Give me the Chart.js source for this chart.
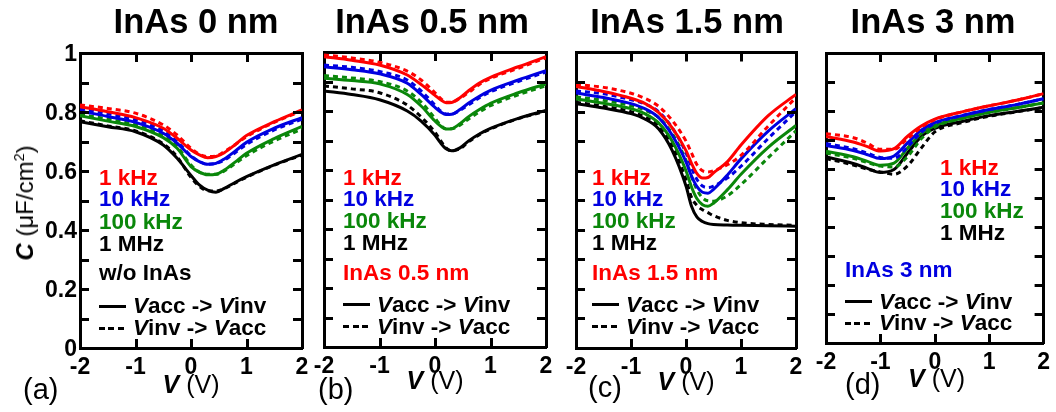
<!DOCTYPE html>
<html>
<head>
<meta charset="utf-8">
<script src="https://cdn.jsdelivr.net/npm/chart.js@4.4.1/dist/chart.umd.min.js"></script>
<style>
  html, body { margin: 0; padding: 0; background: #fff; }
  #fig { position: relative; width: 1056px; height: 412px; overflow: hidden;
         font-family: "Liberation Sans", Arial, Helvetica, sans-serif; color: #000; }
  #fig canvas { position: absolute; left: 0; top: 0; }
  .txt { position: absolute; white-space: nowrap; line-height: 1; }
  .txt sup { font-size: 0.6em; line-height: 0; vertical-align: 0.6em; }
  .swatch { position: absolute; height: 3px; }
</style>
</head>
<body>
<div id="fig"></div>
<script>
// ---- measured C-V data (capacitance in uF/cm^2 versus gate voltage in V) ----
// fwd = sweep from accumulation to inversion (solid), rev = reverse sweep (dashed)

const frequencies = ['1 kHz', '10 kHz', '100 kHz', '1 MHz'];
const panelTitles = ['InAs 0 nm', 'InAs 0.5 nm', 'InAs 1.5 nm', 'InAs 3 nm'];
const sampleNotes = ['w/o InAs', 'InAs 0.5 nm', 'InAs 1.5 nm', 'InAs 3 nm'];
const panelTags = ['(a)', '(b)', '(c)', '(d)'];
const xTickValues = [-2, -1, 0, 1, 2];
const yTickLabels = ['0', '0.2', '0.4', '0.6', '0.8', '1'];

// (a) InAs 0 nm
const V_A = [-2, -1.5, -1, -0.5, -0.25, 0, 0.15, 0.3, 0.45, 0.6, 0.8, 1, 1.5, 2];
const A_1K_FWD   = [0.818, 0.801, 0.781, 0.745, 0.711, 0.671, 0.655, 0.645, 0.649, 0.662, 0.690, 0.720, 0.767, 0.807];
const A_1K_REV   = [0.824, 0.812, 0.796, 0.756, 0.722, 0.677, 0.657, 0.649, 0.651, 0.666, 0.690, 0.716, 0.765, 0.803];
const A_10K_FWD  = [0.803, 0.785, 0.765, 0.728, 0.694, 0.649, 0.632, 0.623, 0.626, 0.641, 0.668, 0.697, 0.745, 0.781];
const A_10K_REV  = [0.810, 0.794, 0.773, 0.736, 0.699, 0.652, 0.632, 0.623, 0.626, 0.637, 0.663, 0.690, 0.739, 0.776];
const A_100K_FWD = [0.787, 0.769, 0.751, 0.713, 0.677, 0.615, 0.596, 0.587, 0.589, 0.603, 0.631, 0.660, 0.710, 0.751];
const A_100K_REV = [0.792, 0.776, 0.756, 0.719, 0.683, 0.620, 0.596, 0.589, 0.589, 0.600, 0.626, 0.652, 0.702, 0.742];
const A_1M_FWD   = [0.767, 0.750, 0.733, 0.688, 0.643, 0.585, 0.553, 0.535, 0.528, 0.541, 0.562, 0.581, 0.621, 0.656];
const A_1M_REV   = [0.770, 0.753, 0.736, 0.692, 0.648, 0.578, 0.548, 0.533, 0.532, 0.540, 0.560, 0.579, 0.620, 0.654];

// (b) InAs 0.5 nm
const V_B = [-2, -1.5, -1, -0.5, -0.25, 0, 0.1, 0.2, 0.3, 0.45, 0.6, 0.8, 1, 1.5, 2];
const B_1K_FWD   = [0.984, 0.972, 0.956, 0.922, 0.890, 0.853, 0.838, 0.828, 0.829, 0.845, 0.868, 0.895, 0.914, 0.950, 0.984];
const B_1K_REV   = [0.990, 0.980, 0.965, 0.935, 0.905, 0.862, 0.843, 0.830, 0.830, 0.843, 0.862, 0.890, 0.910, 0.945, 0.980];
const B_10K_FWD  = [0.950, 0.940, 0.926, 0.894, 0.856, 0.812, 0.797, 0.788, 0.789, 0.805, 0.826, 0.850, 0.870, 0.905, 0.937];
const B_10K_REV  = [0.956, 0.948, 0.934, 0.905, 0.868, 0.820, 0.800, 0.790, 0.790, 0.802, 0.820, 0.845, 0.865, 0.900, 0.932];
const B_100K_FWD = [0.911, 0.903, 0.892, 0.856, 0.817, 0.766, 0.749, 0.739, 0.740, 0.757, 0.780, 0.805, 0.826, 0.862, 0.892];
const B_100K_REV = [0.920, 0.912, 0.900, 0.868, 0.830, 0.775, 0.752, 0.740, 0.740, 0.752, 0.772, 0.797, 0.818, 0.855, 0.886];
const B_1M_FWD   = [0.868, 0.856, 0.838, 0.800, 0.766, 0.718, 0.692, 0.672, 0.665, 0.675, 0.698, 0.722, 0.741, 0.775, 0.802];
const B_1M_REV   = [0.885, 0.875, 0.862, 0.820, 0.780, 0.728, 0.700, 0.675, 0.665, 0.672, 0.695, 0.720, 0.739, 0.774, 0.800];

// (c) InAs 1.5 nm
const V_C = [-2, -1.5, -1, -0.75, -0.5, -0.25, 0, 0.1, 0.2, 0.3, 0.4, 0.5, 0.75, 1, 1.5, 2];
const C_1K_FWD   = [0.885, 0.868, 0.845, 0.828, 0.797, 0.745, 0.668, 0.625, 0.590, 0.575, 0.577, 0.593, 0.630, 0.687, 0.787, 0.858];
const C_1K_REV   = [0.892, 0.882, 0.862, 0.845, 0.818, 0.770, 0.700, 0.660, 0.620, 0.600, 0.596, 0.600, 0.620, 0.652, 0.752, 0.848];
const C_10K_FWD  = [0.863, 0.848, 0.827, 0.810, 0.780, 0.720, 0.630, 0.582, 0.546, 0.527, 0.524, 0.537, 0.585, 0.640, 0.735, 0.810];
const C_10K_REV  = [0.870, 0.860, 0.840, 0.826, 0.800, 0.745, 0.660, 0.610, 0.570, 0.548, 0.543, 0.548, 0.575, 0.615, 0.710, 0.800];
const C_100K_FWD = [0.843, 0.828, 0.810, 0.793, 0.762, 0.700, 0.600, 0.545, 0.505, 0.485, 0.480, 0.490, 0.535, 0.588, 0.680, 0.753];
const C_100K_REV = [0.850, 0.838, 0.820, 0.805, 0.780, 0.725, 0.635, 0.580, 0.535, 0.508, 0.498, 0.497, 0.515, 0.553, 0.645, 0.735];
const C_1M_FWD   = [0.827, 0.812, 0.793, 0.775, 0.742, 0.668, 0.548, 0.480, 0.443, 0.428, 0.421, 0.418, 0.416, 0.415, 0.414, 0.412];
const C_1M_REV   = [0.832, 0.818, 0.800, 0.782, 0.752, 0.685, 0.570, 0.510, 0.482, 0.468, 0.458, 0.448, 0.432, 0.424, 0.418, 0.415];

// (d) InAs 3 nm
const V_D = [-2, -1.5, -1.25, -1, -0.75, -0.5, -0.25, 0, 0.5, 1, 1.5, 2];
const D_1K_FWD   = [0.712, 0.693, 0.678, 0.662, 0.670, 0.713, 0.748, 0.772, 0.797, 0.818, 0.837, 0.860];
const D_1K_REV   = [0.722, 0.708, 0.690, 0.668, 0.668, 0.705, 0.744, 0.770, 0.797, 0.818, 0.837, 0.860];
const D_10K_FWD  = [0.681, 0.664, 0.650, 0.636, 0.645, 0.690, 0.734, 0.760, 0.784, 0.805, 0.822, 0.842];
const D_10K_REV  = [0.688, 0.670, 0.655, 0.640, 0.637, 0.676, 0.726, 0.757, 0.784, 0.805, 0.822, 0.842];
const D_100K_FWD = [0.661, 0.642, 0.627, 0.613, 0.620, 0.672, 0.722, 0.750, 0.775, 0.796, 0.811, 0.828];
const D_100K_REV = [0.655, 0.637, 0.623, 0.610, 0.607, 0.643, 0.704, 0.744, 0.774, 0.795, 0.811, 0.828];
const D_1M_FWD   = [0.642, 0.619, 0.603, 0.588, 0.598, 0.655, 0.712, 0.740, 0.764, 0.784, 0.798, 0.813];
const D_1M_REV   = [0.636, 0.614, 0.600, 0.590, 0.582, 0.611, 0.672, 0.728, 0.760, 0.782, 0.797, 0.812];

// ---- styling and layout ----
const FONT = '"Liberation Sans", Arial, Helvetica, sans-serif';
const SERIES_COLORS = ['#ff0000', '#0000e0', '#0a870a', '#000000'];
const W = 1056, H = 412;

const panels = [
  { volts: V_A, fwd: [A_1K_FWD, A_10K_FWD, A_100K_FWD, A_1M_FWD], rev: [A_1K_REV, A_10K_REV, A_100K_REV, A_1M_REV],
    area: { l: 80, r: 302, t: 53, b: 348 }, yLabels: true, noteColor: '#000',
    freqX: 99, freqBase: [186, 207.5, 230, 252.5], noteX: 99, noteBase: 281.5, keyX: 99, keyBase: [314.5, 336.5],
    titleX: 196, tagX: 23, tagBase: 400, axisBase: 393 },
  { volts: V_B, fwd: [B_1K_FWD, B_10K_FWD, B_100K_FWD, B_1M_FWD], rev: [B_1K_REV, B_10K_REV, B_100K_REV, B_1M_REV],
    area: { l: 324, r: 546, t: 52, b: 347 }, yLabels: false, noteColor: '#ff0000',
    freqX: 343, freqBase: [186, 207.5, 229.5, 251.5], noteX: 343, noteBase: 281.5, keyX: 343, keyBase: [313, 335],
    titleX: 432, tagX: 318, tagBase: 400, axisBase: 389 },
  { volts: V_C, fwd: [C_1K_FWD, C_10K_FWD, C_100K_FWD, C_1M_FWD], rev: [C_1K_REV, C_10K_REV, C_100K_REV, C_1M_REV],
    area: { l: 576, r: 796, t: 52.5, b: 348 }, yLabels: false, noteColor: '#ff0000',
    freqX: 592, freqBase: [186.5, 207, 229.5, 251.5], noteX: 592, noteBase: 281.5, keyX: 592, keyBase: [313, 335],
    titleX: 687, tagX: 588, tagBase: 398, axisBase: 390 },
  { volts: V_D, fwd: [D_1K_FWD, D_10K_FWD, D_100K_FWD, D_1M_FWD], rev: [D_1K_REV, D_10K_REV, D_100K_REV, D_1M_REV],
    area: { l: 826, r: 1047, t: 53, b: 343 }, yLabels: false, noteColor: '#0000e0',
    freqX: 940, freqBase: [176, 197.5, 219.5, 241.5], noteX: 845, noteBase: 278, keyX: 845, keyBase: [310, 331.5],
    titleX: 933, tagX: 845, tagBase: 395, axisBase: 387 }
];

const fig = document.getElementById('fig');

function addText(html, x, base, size, opts = {}) {
  const d = document.createElement('div');
  d.className = 'txt';
  d.innerHTML = html;
  d.style.fontSize = size + 'px';
  d.style.top = (base - 0.8465 * size) + 'px';
  d.style.left = x + 'px';
  if (opts.center) d.style.transform = 'translateX(-50%)';
  if (opts.bold) d.style.fontWeight = 'bold';
  if (opts.color) d.style.color = opts.color;
  fig.appendChild(d);
  return d;
}

function addSwatch(x, y, dashed) {
  const s = document.createElement('div');
  s.className = 'swatch';
  s.style.left = x + 'px';
  s.style.top = (y - 1.5) + 'px';
  s.style.width = (dashed ? 25 : 27) + 'px';
  s.style.background = dashed
    ? 'repeating-linear-gradient(to right, #000 0 6px, transparent 6px 9.5px)'
    : '#000';
  fig.appendChild(s);
}

// Inward-pointing tick marks on all four sides, placed at each scale's own ticks
const TICK_LEN = 9;
const inwardTicks = {
  id: 'inwardTicks',
  afterDatasetsDraw(chart) {
    const ctx = chart.ctx;
    const area = chart.chartArea;
    ctx.save();
    ctx.strokeStyle = '#000';
    ctx.lineWidth = 3;
    ctx.lineCap = 'butt';
    Object.values(chart.scales).forEach((s) => {
      s.ticks.forEach((t) => {
        if (t.value <= s.min + 1e-9 || t.value >= s.max - 1e-9) return;
        const p = Math.round(s.getPixelForValue(t.value)) + 0.5;
        ctx.beginPath();
        if (s.position === 'bottom') { ctx.moveTo(p, area.bottom); ctx.lineTo(p, area.bottom - TICK_LEN); }
        else if (s.position === 'top') { ctx.moveTo(p, area.top); ctx.lineTo(p, area.top + TICK_LEN); }
        else if (s.position === 'left') { ctx.moveTo(area.left, p); ctx.lineTo(area.left + TICK_LEN, p); }
        else { ctx.moveTo(area.right, p); ctx.lineTo(area.right - TICK_LEN, p); }
        ctx.stroke();
      });
    });
    ctx.restore();
  }
};

const gridOpts = { display: false, drawTicks: false };
const borderOpts = { display: true, color: '#000', width: 3 };
const tickFont = { family: FONT, size: 23, weight: 'bold' };

function buildPanel(p, idx) {
  const cv = document.createElement('canvas');
  cv.width = W; cv.height = H;
  fig.appendChild(cv);

  const datasets = [];
  frequencies.forEach((f, i) => {
    datasets.push({
      label: f + ' Vacc -> Vinv',
      data: p.volts.map((v, k) => ({ x: v, y: p.fwd[i][k] })),
      borderColor: SERIES_COLORS[i], borderWidth: 3, fill: false
    });
    datasets.push({
      label: f + ' Vinv -> Vacc',
      data: p.volts.map((v, k) => ({ x: v, y: p.rev[i][k] })),
      borderColor: SERIES_COLORS[i], borderWidth: 3, borderDash: [5, 4], fill: false
    });
  });

  const a = p.area;
  // axis box sizes: the left box holds the value labels, the bottom box the voltage labels
  const leftW = p.yLabels ? a.l - 2 : 20;
  const bottomH = 40;
  const sideW = 1;
  new Chart(cv, {
    type: 'line',
    data: { datasets },
    plugins: [inwardTicks],
    options: {
      responsive: false, animation: false, devicePixelRatio: 1,
      layout: { padding: { left: a.l - leftW, right: W - a.r - sideW, top: a.t - sideW, bottom: H - a.b - bottomH } },
      plugins: { legend: { display: false }, tooltip: { enabled: false }, title: { display: false } },
      elements: { point: { radius: 0 }, line: { cubicInterpolationMode: 'monotone', borderCapStyle: 'butt' } },
      scales: {
        x: {
          type: 'linear', position: 'bottom', min: -2, max: 2,
          afterFit: (s) => { s.height = bottomH; },
          afterBuildTicks: (s) => { s.ticks = xTickValues.map(v => ({ value: v })); },
          ticks: { font: tickFont, color: '#000', padding: 6, maxRotation: 0, autoSkip: false },
          grid: gridOpts, border: borderOpts
        },
        x2: {
          type: 'linear', position: 'top', min: -2, max: 2,
          afterFit: (s) => { s.height = sideW; },
          afterBuildTicks: (s) => { s.ticks = xTickValues.map(v => ({ value: v })); },
          ticks: { display: false }, grid: gridOpts, border: borderOpts
        },
        y: {
          type: 'linear', position: 'left', min: 0, max: 1,
          afterFit: (s) => { s.width = leftW; },
          ticks: {
            display: p.yLabels, stepSize: 0.1, autoSkip: false, font: tickFont, color: '#000',
            padding: 3, labelOffset: 2,
            callback: (v) => { const t = Math.round(v * 10); return t % 2 === 0 ? yTickLabels[t / 2] : ''; }
          },
          grid: gridOpts, border: borderOpts
        },
        y2: {
          type: 'linear', position: 'right', min: 0, max: 1,
          afterFit: (s) => { s.width = sideW; },
          ticks: { display: false, stepSize: 0.1, autoSkip: false },
          grid: gridOpts, border: borderOpts
        }
      }
    }
  });

  // panel heading, annotations and axis title
  addText(panelTitles[idx], p.titleX, 33.5, 34.5, { bold: true, center: true });
  frequencies.forEach((f, i) => addText(f, p.freqX, p.freqBase[i], 22.5, { bold: true, color: SERIES_COLORS[i] }));
  addText(sampleNotes[idx], p.noteX, p.noteBase, 22.5, { bold: true, color: p.noteColor });
  addSwatch(p.keyX, p.keyBase[0] - 8.5, false);
  addSwatch(p.keyX, p.keyBase[1] - 8.5, true);
  addText('<i>V</i>acc -&gt; <i>V</i>inv', p.keyX + 34, p.keyBase[0], 22.5, { bold: true });
  addText('<i>V</i>inv -&gt; <i>V</i>acc', p.keyX + 34, p.keyBase[1], 22.5, { bold: true });
  addText('<b><i>V</i></b> (V)', (a.l + a.r) / 2, p.axisBase, 25, { center: true });
  addText(panelTags[idx], p.tagX, p.tagBase, 29);
}

panels.forEach(buildPanel);

// y-axis title of the first panel
const yTitle = document.createElement('div');
yTitle.className = 'txt';
yTitle.innerHTML = '<b><i>C</i></b> (μF/cm<sup>2</sup>)';
yTitle.style.fontSize = '24px';
yTitle.style.left = '25px';
yTitle.style.top = '203px';
yTitle.style.transform = 'translate(-50%, -50%) rotate(-90deg)';
fig.appendChild(yTitle);
</script>
</body>
</html>
